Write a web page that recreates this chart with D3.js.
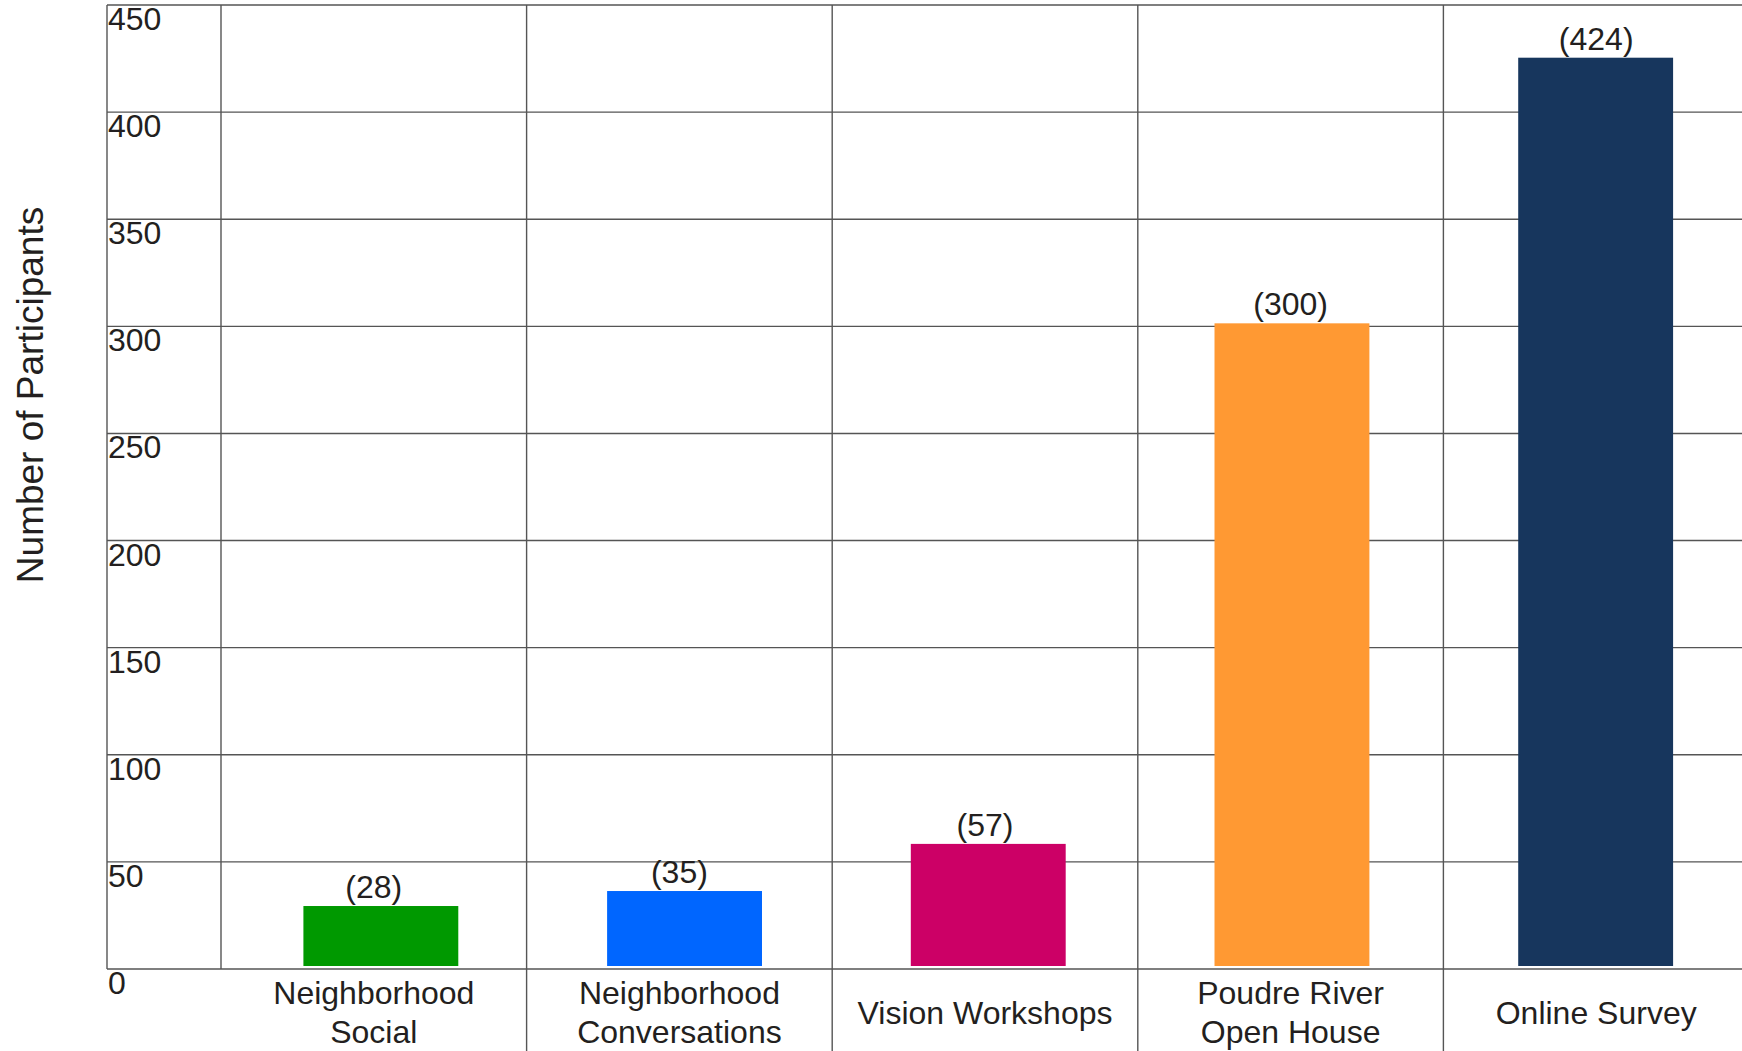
<!DOCTYPE html>
<html>
<head>
<meta charset="utf-8">
<script src="https://cdn.jsdelivr.net/npm/d3@7"></script>
<style>
  body { margin: 0; background: #fff; }
  text { font-family: "Liberation Sans", Arial, sans-serif; fill: #231f20; }
</style>
</head>
<body>
<div id="chart-area"></div>
<script>
// data
var categories = ["Neighborhood Social", "Neighborhood Conversations", "Vision Workshops", "Poudre River Open House", "Online Survey"];
var labelLines = [["Neighborhood", "Social"], ["Neighborhood", "Conversations"], ["Vision Workshops"], ["Poudre River", "Open House"], ["Online Survey"]];
var participants = [28, 35, 57, 300, 424];
var barColors = ["#009900", "#0066ff", "#cc0066", "#ff9933", "#17365d"];
var yTicks = [0, 50, 100, 150, 200, 250, 300, 350, 400, 450];

var W = 1742, H = 1051;
var frameLeft = 107, plotLeft = 221, plotTop = 5, plotBottom = 969;
var step = 305.6;

var svg = d3.select("#chart-area")
    .append("svg")
    .attr("width", W)
    .attr("height", H);

// table cells
var x = d3.scaleBand()
    .domain(categories)
    .range([plotLeft, plotLeft + step * categories.length])
    .padding(0);

// bars sit on a slightly tighter spacing than the cells
var xBar = d3.scaleBand()
    .domain(categories)
    .range([229, 1747.5])
    .paddingInner(0.49)
    .paddingOuter(0.245);

var y = d3.scaleLinear()
    .domain([0, 450])
    .range([plotBottom, plotTop]);

var lineColor = "#555";

// horizontal grid lines
svg.append("g").selectAll("line")
    .data(yTicks)
    .enter().append("line")
    .attr("x1", frameLeft)
    .attr("x2", W)
    .attr("y1", d => y(d))
    .attr("y2", d => y(d))
    .attr("stroke", lineColor)
    .attr("stroke-width", 1.4);

// left frame + first column line
svg.append("g").selectAll("line")
    .data([frameLeft, plotLeft])
    .enter().append("line")
    .attr("x1", d => d).attr("x2", d => d)
    .attr("y1", y(450)).attr("y2", y(0))
    .attr("stroke", lineColor)
    .attr("stroke-width", 1.4);

// category separators run down through the label row
svg.append("g").selectAll("line")
    .data(categories.slice(1))
    .enter().append("line")
    .attr("x1", d => x(d)).attr("x2", d => x(d))
    .attr("y1", y(450)).attr("y2", H)
    .attr("stroke", lineColor)
    .attr("stroke-width", 1.4);

// y tick labels, hanging under each line
svg.append("g").selectAll("text")
    .data(yTicks)
    .enter().append("text")
    .attr("x", frameLeft + 1)
    .attr("y", d => y(d) + 25)
    .attr("font-size", "32px")
    .text(d => d);

// y title
svg.append("text")
    .attr("transform", "translate(43," + 395 + ") rotate(-90)")
    .attr("text-anchor", "middle")
    .attr("font-size", "37px")
    .text("Number of Participants");

var gap = 3;

svg.append("g").selectAll("rect")
    .data(categories)
    .enter().append("rect")
    .attr("x", d => xBar(d))
    .attr("width", xBar.bandwidth())
    .attr("y", (d, i) => y(participants[i]) - gap)
    .attr("height", (d, i) => y(0) - y(participants[i]))
    .attr("fill", (d, i) => barColors[i]);

// value labels
svg.append("g").selectAll("text")
    .data(categories)
    .enter().append("text")
    .attr("x", d => x(d) + x.bandwidth() / 2)
    .attr("y", (d, i) => y(participants[i]) - gap - 8)
    .attr("text-anchor", "middle")
    .attr("font-size", "32px")
    .text((d, i) => "(" + participants[i] + ")");

// category labels
categories.forEach(function (c, i) {
    var lines = labelLines[i];
    var t = svg.append("text")
        .attr("text-anchor", "middle")
        .attr("font-size", "32px");
    lines.forEach(function (l, j) {
        var base = lines.length === 1 ? 1024 : 1004 + j * 39;
        t.append("tspan")
            .attr("x", x(c) + x.bandwidth() / 2)
            .attr("y", base)
            .text(l);
    });
});
</script>
</body>
</html>
